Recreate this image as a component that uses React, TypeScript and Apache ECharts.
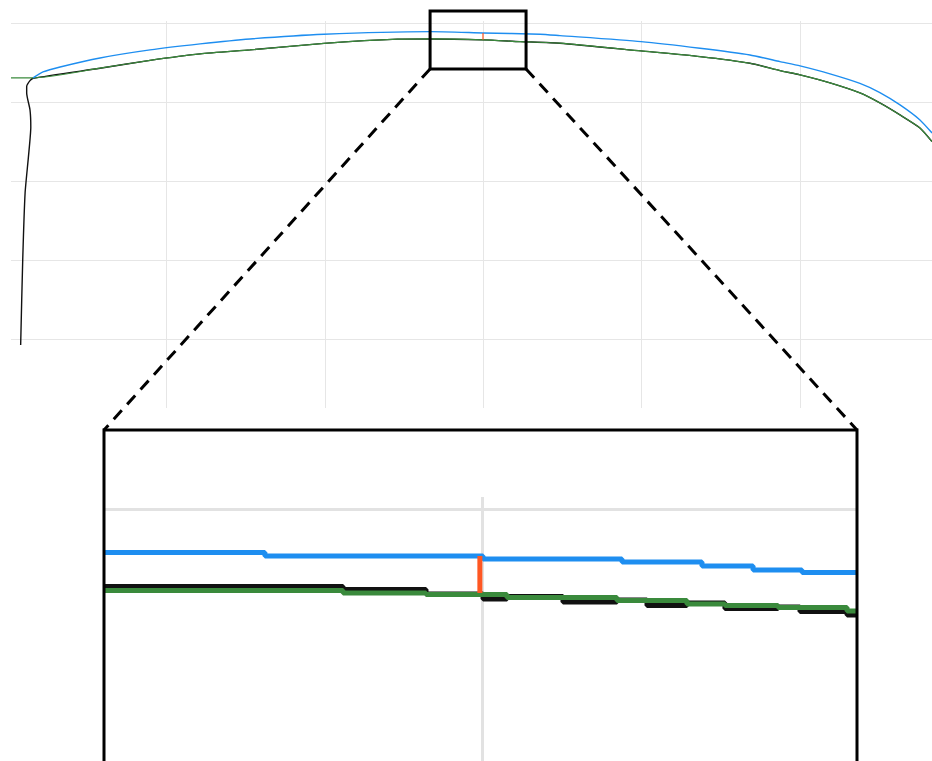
import { useEffect, useRef } from "react";
import * as echarts from "echarts";

// ---- Main curves (x in units with gridlines every 10, y with gridlines every 10) ----
const blueX = [1.57, 2.2, 3.28, 5.8, 8.96, 12.12, 15.27, 19.94, 26.64, 29.98, 33.58, 34.84, 39.96, 43.68, 46.84, 48.73, 50.0, 51.89, 53.78, 55.04, 56.31, 57.57, 58.33];
const blueY = [33.08, 33.84, 34.47, 35.61, 36.63, 37.39, 38.02, 38.62, 38.94, 38.78, 38.62, 38.44, 37.68, 36.84, 35.99, 35.15, 34.6, 33.59, 32.38, 31.22, 29.66, 27.76, 26.11];

const greenX = [0.18, 1.57, 5.8, 8.96, 12.12, 15.27, 19.94, 24.59, 26.64, 29.98, 32.32, 34.84, 39.96, 43.68, 46.84, 48.73, 50.0, 51.89, 53.78, 55.04, 56.31, 57.57, 58.33];
const greenY = [33.08, 33.08, 34.31, 35.3, 36.12, 36.63, 37.45, 37.99, 38.02, 37.9, 37.68, 37.48, 36.5, 35.78, 34.94, 34.01, 33.46, 32.45, 31.18, 29.91, 28.39, 26.74, 25.01];

const blackX = [0.79, 0.92, 1.07, 1.28, 1.43, 1.38, 1.17, 1.17, 1.38, 1.59, 5.8, 8.96, 12.12, 15.27, 19.94, 24.59, 26.64, 29.98, 32.32, 34.84, 39.96, 43.68, 46.84, 48.73, 50.0, 51.89, 53.78, 55.04, 56.31, 57.57, 58.33];
const blackY = [-0.76, 10.01, 18.5, 23.07, 26.87, 29.02, 31.18, 31.98, 32.74, 33.04, 34.31, 35.3, 36.12, 36.63, 37.45, 37.99, 38.02, 37.9, 37.68, 37.48, 36.5, 35.78, 34.94, 34.01, 33.46, 32.45, 31.18, 29.91, 28.39, 26.74, 25.01];

// Gap marker between the blue and green curves
const gapX = [29.98, 29.98];
const gapY = [38.78, 37.9];

// Region outlined on the main plot
const zoomWindowX = [26.64, 32.7];
const zoomWindowY = [34.22, 41.57];

// ---- Magnified view (stepped samples) ----
const insetBlueX = [27.0, 28.276, 30.005, 31.107, 31.741, 32.146, 32.534, 32.97];
const insetBlueY = [38.975, 38.892, 38.82, 38.749, 38.653, 38.558, 38.498, 38.498];

const insetGreenX = [27.0, 28.895, 29.553, 30.195, 31.067, 31.622, 31.923, 32.344, 32.891, 32.97];
const insetGreenY = [38.069, 38.009, 37.973, 37.901, 37.83, 37.746, 37.711, 37.663, 37.579, 37.579];

const insetBlackX = [27.0, 28.895, 29.553, 30.005, 30.195, 30.639, 31.067, 31.305, 31.622, 31.923, 32.344, 32.518, 32.891, 32.97];
const insetBlackY = [38.164, 38.092, 37.985, 37.866, 37.925, 37.794, 37.842, 37.711, 37.77, 37.639, 37.675, 37.567, 37.484, 37.484];

const insetGapX = [29.98, 29.98];
const insetGapY = [38.892, 38.009];

const pairs = (xs: number[], ys: number[]) => xs.map((x, i) => [x, ys[i]]);

const BLUE = "#1e8ef0";
const GREEN = "#3a8a3c";
const BLACK = "#111111";
const ORANGE = "#ff5722";
const GRID = "#e6e6e6";

// inset frame layout
const FRAME = { left: 104, top: 430, right: 857 };

export default function App() {
  const ref = useRef<HTMLDivElement>(null);

  useEffect(() => {
    document.body.style.margin = "0";
    const chart = echarts.init(ref.current!, null, { renderer: "svg" });
    const hidden = {
      axisLine: { show: false },
      axisTick: { show: false },
      axisLabel: { show: false },
    };
    const line = (
      name: string,
      data: number[][],
      color: string,
      width: number,
      axis: number,
      extra: Record<string, unknown> = {}
    ) => ({
      name,
      type: "line",
      data,
      xAxisIndex: axis,
      yAxisIndex: axis,
      showSymbol: false,
      symbol: "none",
      silent: true,
      lineStyle: { color, width },
      ...extra,
    });

    chart.setOption({
      animation: false,
      grid: [
        { left: 11, top: 23.3, width: 921, height: 315.7 },
        { left: 8.1, top: 21, width: 923.9, height: 387 },
        { left: FRAME.left, top: 497, width: FRAME.right - FRAME.left, height: 264 },
      ],
      xAxis: [
        { type: "value", gridIndex: 0, min: 0.18, max: 58.33, splitLine: { show: false }, ...hidden },
        {
          type: "value", gridIndex: 1, min: 0, max: 58.33, interval: 10,
          splitLine: { show: true, showMinLine: false, showMaxLine: false, lineStyle: { color: GRID, width: 1 } },
          ...hidden,
        },
        {
          type: "value", gridIndex: 2, min: 27, max: 32.97, interval: 3,
          splitLine: { show: true, showMinLine: false, showMaxLine: false, lineStyle: { color: "#e2e2e2", width: 3 } },
          ...hidden,
        },
      ],
      yAxis: [
        {
          type: "value", gridIndex: 0, min: 0, max: 40, interval: 10,
          splitLine: { show: true, lineStyle: { color: GRID, width: 1 } },
          ...hidden,
        },
        { type: "value", gridIndex: 1, min: 0, max: 1, splitLine: { show: false }, ...hidden },
        {
          type: "value", gridIndex: 2, min: 34, max: 40.3, interval: 6,
          splitLine: { show: true, showMinLine: false, showMaxLine: false, lineStyle: { color: "#e2e2e2", width: 3 } },
          ...hidden,
        },
      ],
      series: [
        line("black", pairs(blackX, blackY), BLACK, 1.4, 0, { clip: false, smooth: 0.2 }),
        line("green", pairs(greenX, greenY), GREEN, 1.2, 0, { smooth: 0.2 }),
        line("blue", pairs(blueX, blueY), BLUE, 1.4, 0, { smooth: 0.2 }),
        line("gap", pairs(gapX, gapY), ORANGE, 1.2, 0),
        line("black-zoom", pairs(insetBlackX, insetBlackY), BLACK, 5, 2, { step: "end" }),
        line("green-zoom", pairs(insetGreenX, insetGreenY), GREEN, 5, 2, { step: "end" }),
        line("blue-zoom", pairs(insetBlueX, insetBlueY), BLUE, 5, 2, { step: "end" }),
        line("gap-zoom", pairs(insetGapX, insetGapY), ORANGE, 5, 2),
      ],
    });

    const tl = chart.convertToPixel({ xAxisIndex: 0, yAxisIndex: 0 }, [zoomWindowX[0], zoomWindowY[1]]) as number[];
    const br = chart.convertToPixel({ xAxisIndex: 0, yAxisIndex: 0 }, [zoomWindowX[1], zoomWindowY[0]]) as number[];
    const stroke = { stroke: "#000", lineWidth: 3, fill: "none" };

    chart.setOption({
      graphic: [
        {
          type: "rect", z: 100, silent: true,
          shape: { x: tl[0], y: tl[1], width: br[0] - tl[0], height: br[1] - tl[1] },
          style: { ...stroke },
        },
        {
          type: "polyline", z: 100, silent: true,
          shape: { points: [[FRAME.left, 820], [FRAME.left, FRAME.top], [FRAME.right, FRAME.top], [FRAME.right, 820]] },
          style: { ...stroke },
        },
        {
          type: "line", z: 100, silent: true,
          shape: { x1: tl[0], y1: br[1], x2: FRAME.left, y2: FRAME.top },
          style: { stroke: "#000", lineWidth: 3, lineDash: [12, 8] },
        },
        {
          type: "line", z: 100, silent: true,
          shape: { x1: br[0], y1: br[1], x2: FRAME.right, y2: FRAME.top },
          style: { stroke: "#000", lineWidth: 3, lineDash: [12, 8] },
        },
      ],
    });

    return () => chart.dispose();
  }, []);

  return <div ref={ref} style={{ width: 932, height: 761 }} />;
}
